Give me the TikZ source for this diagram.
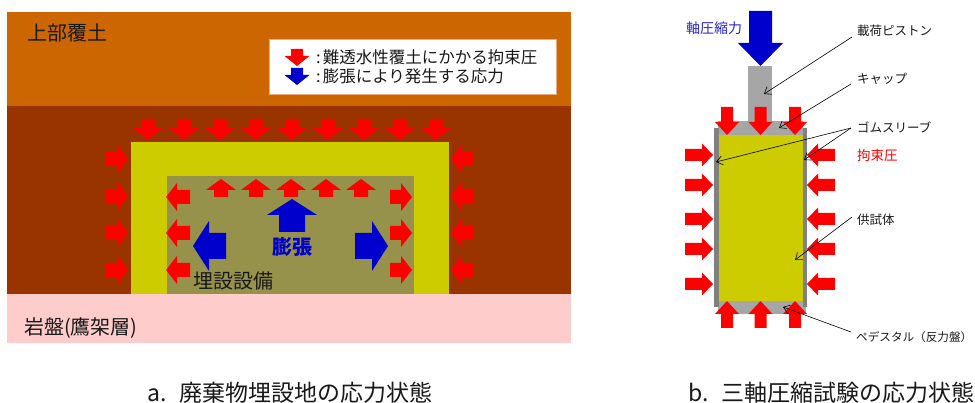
\documentclass[tikz,border=0pt]{standalone}
\usepackage{fontspec}
\newfontfamily\jp{Noto Sans CJK JP}
\usetikzlibrary{arrows.meta}

\definecolor{coverorange}{RGB}{204,102,0}
\definecolor{clayband}{RGB}{153,51,0}
\definecolor{bedrock}{RGB}{255,204,204}
\definecolor{buffer}{RGB}{204,204,0}
\definecolor{waste}{RGB}{150,145,75}
\definecolor{press}{RGB}{255,0,0}
\definecolor{swell}{RGB}{0,0,204}
\definecolor{axial}{RGB}{40,40,204}
\definecolor{steel}{RGB}{166,166,166}
\definecolor{rubber}{RGB}{128,128,128}
\definecolor{ink}{RGB}{25,25,25}
\definecolor{legendedge}{RGB}{235,170,130}

% block arrow: colour, tail point, direction (deg), length, shaft half-width, head half-width, head length
\newcommand{\blkarrow}[7]{%
  \fill[#1, shift={#2}, rotate=#3]
    (0,-#5) -- ({#4-#7},-#5) -- ({#4-#7},-#6) -- (#4,0) -- ({#4-#7},#6) -- ({#4-#7},#5) -- (0,#5) -- cycle;}

\tikzset{
  lbl/.style={inner sep=0pt, anchor=west, text=ink},
  lblA/.style={lbl, font=\jp\fontsize{20}{20}\selectfont},
  lblB/.style={lbl, font=\jp\fontsize{12.5}{12.5}\selectfont},
  legendtxt/.style={lbl, font=\jp\fontsize{16.5}{16.5}\selectfont},
  captxt/.style={lbl, font=\jp\fontsize{23}{23}\selectfont},
  leader/.style={draw=black, line width=0.6pt, -{Straight Barb[length=6pt,width=9pt]}}
}

\begin{document}
\begin{tikzpicture}[x=1pt,y=-1pt]
\useasboundingbox (0,0) rectangle (975,403);
\fill[white] (0,0) rectangle (975,403);

% ---------- a. disposal site: soil layers ----------
\fill[coverorange] (7,12) rectangle (571,106);
\fill[clayband] (7,106) rectangle (571,294);
\fill[bedrock] (7,294) rectangle (571,343);
\fill[buffer] (131,142) rectangle (449,294);
\fill[waste] (167,176) rectangle (414,294);

% legend box
\draw[legendedge, line width=0.5pt, fill=white] (269,39) rectangle (556,94);
\blkarrow{press}{(297,49)}{-90}{17}{6}{12.5}{10}
\blkarrow{swell}{(297,68)}{-90}{17}{6}{12.5}{10}
\node[legendtxt] (legred) at (316,57) {:\hspace{2pt}難透水性覆土にかかる拘束圧};
\node[legendtxt] (legblue) at (316,76) {:\hspace{2pt}膨張により発生する応力};

% confining pressure from the cover, top row
\foreach \cx in {148,184,220,256,292,328,364,400,436} {
  \blkarrow{press}{(\cx,119)}{-90}{21}{6.5}{15}{12}
}
% confining pressure, sides
\foreach \cy in {159,196,233,270} {
  \blkarrow{press}{(106,\cy)}{0}{22}{7}{15}{11}
  \blkarrow{press}{(473,\cy)}{180}{22}{7}{15}{11}
}
% reaction inside the buried facility
\foreach \cx in {221,256,291,326,361} {
  \blkarrow{press}{(\cx,197)}{90}{18}{7}{15}{11}
}
\foreach \cy in {197,233,270} {
  \blkarrow{press}{(190,\cy)}{180}{24}{7}{14}{11}
  \blkarrow{press}{(390,\cy)}{0}{22}{7}{14}{11}
}
% swelling
\blkarrow{swell}{(292,232)}{90}{33}{13}{25}{16}
\blkarrow{swell}{(226,246)}{180}{33}{13}{25}{16}
\blkarrow{swell}{(355,246)}{0}{33}{13}{25}{16}

\node[lblA] (cover) at (27,33) {上部覆土};
\node[lblA] (rock) at (24,328) {岩盤(鷹架層)};
\node[lblA] (facility) at (193,281) {埋設設備};
\node[inner sep=0pt, text=swell, font=\jp\bfseries\fontsize{20}{20}\selectfont] (swelltxt) at (292,247) {膨張};

% ---------- b. triaxial compression test ----------
\fill[steel] (718,301) rectangle (806,314);   % pedestal
\fill[steel] (718,121) rectangle (803,135);   % cap
\fill[steel] (748,66) rectangle (772,122);    % loading piston
\fill[buffer] (719,135) rectangle (803,301);  % specimen
\fill[rubber] (714,128) rectangle (719,307);  % rubber sleeve
\fill[rubber] (803,128) rectangle (807,307);

\blkarrow{swell}{(760.5,11)}{-90}{55}{11.5}{22.5}{23}
\foreach \cx in {727,760.5,795} {
  \blkarrow{press}{(\cx,107)}{-90}{28}{6}{12}{13}
  \blkarrow{press}{(\cx,328)}{90}{27}{6}{12}{13}
}
\foreach \cy in {155,185,219,249,284} {
  \blkarrow{press}{(685,\cy)}{0}{28}{6}{11.5}{11}
  \blkarrow{press}{(835,\cy)}{180}{28}{6}{11.5}{11}
}

\node[inner sep=0pt, anchor=west, text=axial, font=\jp\fontsize{14}{14}\selectfont] (axtxt) at (686,28) {軸圧縮力};

\node[lblB] (piston) at (857,31) {載荷ピストン};
\node[lblB] (cap) at (857,79) {キャップ};
\node[lblB] (sleeve) at (857,127) {ゴムスリーブ};
\node[inner sep=0pt, anchor=west, text=press, font=\jp\fontsize{13.5}{13.5}\selectfont] (confine) at (857,155) {拘束圧};
\node[lblB] (specimen) at (857,220) {供試体};
\node[lbl, font=\jp\fontsize{11.6}{11.6}\selectfont] (pedestal) at (856,337) {ペデスタル（反力盤）};

\coordinate (pistontip) at (764,94);
\coordinate (captip) at (779,128);
\coordinate (sleeveL) at (716,162);
\coordinate (sleeveR) at (804,160);
\coordinate (spectip) at (795,260);
\coordinate (pedtip) at (783,307);

\draw[leader] ([shift={(-5,6)}]piston.west) -- (pistontip);
\draw[leader] ([shift={(-6,5)}]cap.west) -- (captip);
\draw[leader] ([shift={(-6,1)}]sleeve.west) -- (sleeveL);
\draw[leader] ([shift={(-6,1)}]sleeve.west) -- (sleeveR);
\draw[leader] ([shift={(-5,-3)}]specimen.west) -- (spectip);
\draw[leader] ([shift={(-5,-5)}]pedestal.west) -- (pedtip);

% ---------- captions ----------
\node[captxt] (capa) at (147,393) {a.\hspace{13pt}廃棄物埋設地の応力状態};
\node[captxt] (capb) at (688,393) {b.\hspace{13pt}三軸圧縮試験の応力状態};
\end{tikzpicture}
\end{document}
